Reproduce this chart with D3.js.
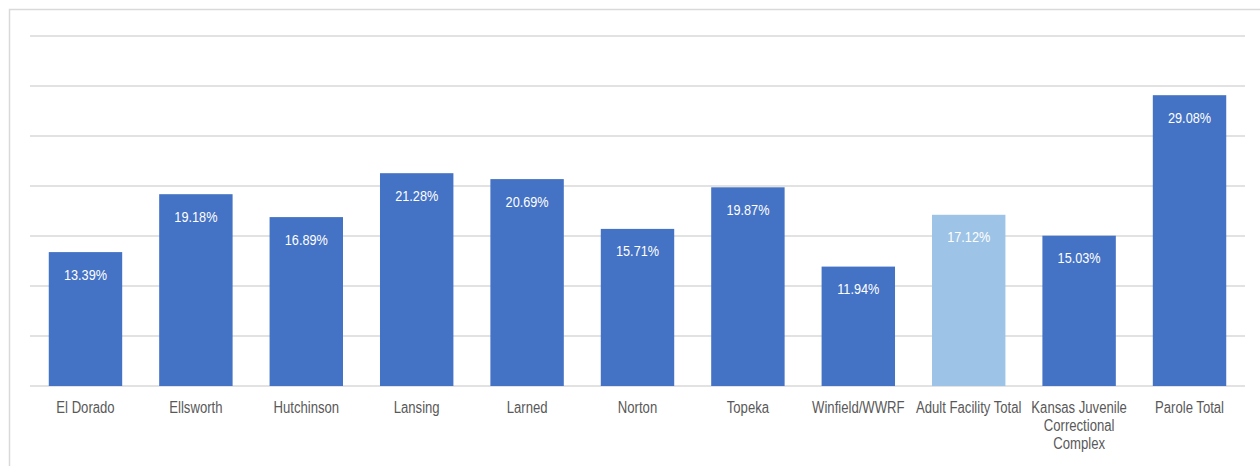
<!DOCTYPE html>
<html lang="en">
<head>
<meta charset="UTF-8">
<title>Rates by facility</title>
<script src="https://cdn.jsdelivr.net/npm/d3@7/dist/d3.min.js"></script>
<style>
  html, body { margin: 0; padding: 0; background: #fff; }
  svg { display: block; }
  .lbl { font-family: "Liberation Sans", Arial, sans-serif; }
</style>
</head>
<body>
<div id="chart"></div>
<script>
// chart data
const categories = ["El Dorado", "Ellsworth", "Hutchinson", "Lansing", "Larned", "Norton", "Topeka",
  "Winfield/WWRF", "Adult Facility Total", "Kansas Juvenile Correctional Complex", "Parole Total"];
const values = [13.39, 19.18, 16.89, 21.28, 20.69, 15.71, 19.87, 11.94, 17.12, 15.03, 29.08];
const highlighted = ["Adult Facility Total"];
// category labels broken into lines as in the original
const labelLines = {
  "Kansas Juvenile Correctional Complex": ["Kansas Juvenile", "Correctional", "Complex"]
};
const yTicks = [0, 5, 10, 15, 20, 25, 30, 35];

const width = 1260, height = 466;
const plot = { left: 30, right: 1245, top: 36, bottom: 386 };
const narrow = 0.82; // no Arial Narrow installed, squeeze regular sans instead

const svg = d3.select('#chart').append('svg')
  .attr('width', width)
  .attr('height', height);

// outer frame (top and left edges visible)
svg.append('path')
  .attr('d', `M9.5,${height} V9.5 H${width}`)
  .attr('fill', 'none')
  .attr('stroke', '#d9d9d9')
  .attr('stroke-width', 1.5);

const x = d3.scaleBand()
  .domain(categories)
  .range([plot.left, plot.right])
  .paddingInner(0.335)
  .paddingOuter(0.17);

const y = d3.scaleLinear()
  .domain([0, 35])
  .range([plot.bottom, plot.top]);

// gridlines
svg.append('g')
  .selectAll('line')
  .data(yTicks)
  .join('line')
  .attr('x1', plot.left)
  .attr('x2', plot.right)
  .attr('y1', d => y(d))
  .attr('y2', d => y(d))
  .attr('stroke', '#d9d9d9')
  .attr('stroke-width', 1.5);

// bars
svg.append('g')
  .selectAll('rect')
  .data(categories)
  .join('rect')
  .attr('x', d => x(d))
  .attr('width', x.bandwidth())
  .attr('y', (d, i) => y(values[i]))
  .attr('height', (d, i) => y(0) - y(values[i]))
  .attr('fill', d => highlighted.includes(d) ? '#9dc3e6' : '#4472c4');

// value labels
svg.append('g')
  .selectAll('text')
  .data(categories)
  .join('text')
  .attr('class', 'lbl')
  .attr('transform', (d, i) =>
    `translate(${x(d) + x.bandwidth() / 2},${y(values[i]) + 22}) scale(${narrow},1)`)
  .attr('dy', '0.35em')
  .attr('text-anchor', 'middle')
  .attr('fill', '#ffffff')
  .style('font-size', '15.5px')
  .text((d, i) => values[i].toFixed(2) + '%');

// category labels
const xl = svg.append('g')
  .selectAll('text')
  .data(categories)
  .join('text')
  .attr('class', 'lbl')
  .attr('transform', d => `translate(${x(d) + x.bandwidth() / 2},407) scale(${narrow},1)`)
  .attr('text-anchor', 'middle')
  .attr('fill', '#595959')
  .style('font-size', '16px');

xl.each(function (d) {
  const lines = labelLines[d] || [d];
  d3.select(this).selectAll('tspan')
    .data(lines)
    .join('tspan')
    .attr('x', 0)
    .attr('dy', (l, i) => i === 0 ? '0.35em' : '18px')
    .text(l => l);
});
</script>
</body>
</html>
